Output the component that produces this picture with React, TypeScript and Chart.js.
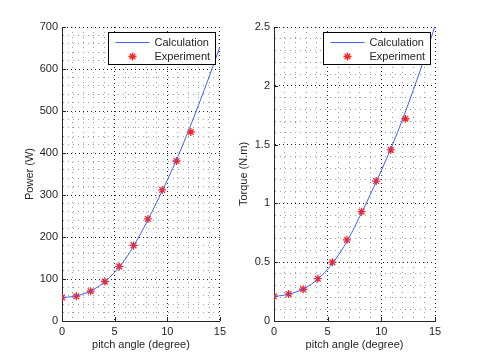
import React, { useEffect, useRef } from 'react';
import { Chart, registerables } from 'chart.js';
Chart.register(...registerables);

// ---- data ----
const calcAngle = [0, 1, 2, 3, 4, 5, 6, 7, 8, 9, 10, 11, 12, 13, 14, 15];
const calcPower = [56, 58, 64, 75, 92, 116, 147, 187, 233, 283, 335, 391, 452, 516, 583, 653];
const calcTorque = [0.21, 0.22, 0.245, 0.285, 0.35, 0.44, 0.56, 0.71, 0.89, 1.08, 1.28, 1.49, 1.72, 1.97, 2.23, 2.51];
const expAngle = [0, 1.36, 2.72, 4.08, 5.44, 6.8, 8.16, 9.52, 10.88, 12.24];
const expPower = [56, 59, 71, 94, 130, 180, 243, 312, 381, 450];
const expTorque = [0.21, 0.23, 0.27, 0.36, 0.5, 0.69, 0.93, 1.19, 1.455, 1.72];
const seriesLabels = ['Calculation', 'Experiment'];
const xTitle = 'pitch angle (degree)';
const powerTitle = 'Power (W)';
const torqueTitle = 'Torque (N.m)';

const FONT = "'Liberation Sans', Arial, Helvetica, sans-serif";
const TEXT = '#262626';

const near = (v: number, step: number) => Math.abs(v / step - Math.round(v / step)) < 1e-6;

const matlabPlugin = {
  id: 'matlab',
  afterDraw(chart: any, _args: any, opts: any) {
    const ctx = chart.ctx;
    const { left, right, top, bottom } = chart.chartArea;
    const xs = chart.scales.x;
    const ys = chart.scales.y;
    ctx.save();
    // inward ticks
    ctx.strokeStyle = '#262626';
    ctx.lineWidth = 1;
    ctx.beginPath();
    xs.ticks.forEach((t: any) => {
      if (!near(t.value, opts.xMajor)) return;
      const px = Math.round(xs.getPixelForValue(t.value)) + 0.5;
      ctx.moveTo(px, bottom);
      ctx.lineTo(px, bottom - 4);
    });
    ys.ticks.forEach((t: any) => {
      if (!near(t.value, opts.yMajor)) return;
      const py = Math.round(ys.getPixelForValue(t.value)) + 0.5;
      ctx.moveTo(left, py);
      ctx.lineTo(left + 4, py);
    });
    ctx.stroke();

    // axis titles
    ctx.fillStyle = TEXT;
    ctx.font = `11px ${FONT}`;
    ctx.textAlign = 'center';
    ctx.textBaseline = 'middle';
    ctx.fillText(opts.xTitle, (left + right) / 2, bottom + 24);
    ctx.save();
    ctx.translate(opts.yTitleX, (top + bottom) / 2);
    ctx.rotate(-Math.PI / 2);
    ctx.fillText(opts.yTitle, 0, 0);
    ctx.restore();

    // legend box
    const bx = Math.round(right - 112) + 0.5;
    const by = Math.round(top + 5) + 0.5;
    const bw = 107;
    const bh = 32;
    ctx.fillStyle = '#ffffff';
    ctx.fillRect(bx, by, bw, bh);
    ctx.strokeStyle = '#000';
    ctx.lineWidth = 1;
    ctx.strokeRect(bx, by, bw, bh);
    const ds = chart.data.datasets;
    // line sample
    ctx.strokeStyle = ds[0].borderColor;
    ctx.beginPath();
    ctx.moveTo(bx + 7, by + 10);
    ctx.lineTo(bx + 41, by + 10);
    ctx.stroke();
    // star sample
    ctx.strokeStyle = ds[1].borderColor;
    ctx.lineWidth = ds[1].pointBorderWidth;
    const cx = bx + 24;
    const cy = by + 24;
    const r = ds[1].pointRadius;
    ctx.beginPath();
    for (let k = 0; k < 4; k++) {
      const a = (k * Math.PI) / 4;
      ctx.moveTo(cx - r * Math.cos(a), cy - r * Math.sin(a));
      ctx.lineTo(cx + r * Math.cos(a), cy + r * Math.sin(a));
    }
    ctx.stroke();
    ctx.fillStyle = TEXT;
    ctx.textAlign = 'left';
    ctx.fillText(ds[0].label, bx + 46, by + 10);
    ctx.fillText(ds[1].label, bx + 46, by + 24);
    ctx.restore();
  },
};

function buildConfig(calcY: number[], expY: number[], yMax: number, yStep: number, yMajor: number,
  yAxisWidth: number, rightPad: number, yTitle: string, yTitleX: number): any {
  const isXMajor = (v: number) => near(v, 5);
  const isYMajor = (v: number) => near(v, yMajor);
  return {
    type: 'line',
    data: {
      datasets: [
        {
          label: seriesLabels[0],
          data: calcAngle.map((x, i) => ({ x, y: calcY[i] })),
          borderColor: '#4263f5',
          borderWidth: 1,
          pointRadius: 0,
          cubicInterpolationMode: 'monotone',
          fill: false,
        },
        {
          label: seriesLabels[1],
          data: expAngle.map((x, i) => ({ x, y: expY[i] })),
          showLine: false,
          pointStyle: 'star',
          pointRadius: 4,
          pointBorderWidth: 1.3,
          borderColor: '#ff2020',
          backgroundColor: '#ff2020',
          pointBorderColor: '#ff2020',
        },
      ],
    },
    options: {
      responsive: false,
      animation: false,
      devicePixelRatio: 1,
      layout: { padding: { left: 0, right: rightPad, top: 27, bottom: 0 } },
      plugins: {
        legend: { display: false },
        tooltip: { enabled: false },
        matlab: { xMajor: 5, yMajor, xTitle, yTitle, yTitleX },
      },
      scales: {
        x: {
          type: 'linear',
          min: 0,
          max: 15,
          afterFit: (s: any) => { s.height = 40; },
          ticks: {
            stepSize: 1,
            autoSkip: false,
            maxRotation: 0,
            padding: 4,
            color: TEXT,
            font: { family: FONT, size: 11 },
            callback: (v: number) => (isXMajor(v) ? String(Math.round(v)) : ''),
          },
          grid: {
            drawTicks: false,
            lineWidth: 1,
            color: (c: any) => (c.tick && isXMajor(c.tick.value) ? '#222' : '#a0a0a0'),
          },
          border: {
            color: '#262626',
            width: 1,
            dash: (c: any) => (c.tick ? (isXMajor(c.tick.value) ? [1, 3] : [1, 4]) : []),
          },
        },
        y: {
          type: 'linear',
          min: 0,
          max: yMax,
          afterFit: (s: any) => { s.width = yAxisWidth; },
          ticks: {
            stepSize: yStep,
            autoSkip: false,
            padding: 4,
            color: TEXT,
            font: { family: FONT, size: 11 },
            callback: (v: number) => (isYMajor(v) ? String(Math.round(v * 10) / 10) : ''),
          },
          grid: {
            drawTicks: false,
            lineWidth: 1,
            color: (c: any) => (c.tick && isYMajor(c.tick.value) ? '#222' : '#a0a0a0'),
          },
          border: {
            color: '#262626',
            width: 1,
            dash: (c: any) => (c.tick ? (isYMajor(c.tick.value) ? [1, 3] : [1, 4]) : []),
          },
        },
      },
    },
    plugins: [matlabPlugin],
  };
}

function ChartCanvas({ left, width, config }: { left: number; width: number; config: () => any }) {
  const ref = useRef<HTMLCanvasElement | null>(null);
  useEffect(() => {
    if (!ref.current) return;
    const chart = new Chart(ref.current, config());
    return () => chart.destroy();
  }, []);
  return (
    <canvas
      ref={ref}
      width={width}
      height={361}
      style={{ position: 'absolute', left, top: 0, width, height: 361 }}
    />
  );
}

export default function App() {
  return (
    <div style={{ position: 'fixed', left: 0, top: 0, width: 480, height: 361, background: '#fff', overflow: 'hidden' }}>
      <ChartCanvas
        left={0}
        width={230}
        config={() => buildConfig(calcPower, expPower, 700, 20, 100, 62, 7, powerTitle, 30)}
      />
      <ChartCanvas
        left={230}
        width={250}
        config={() => buildConfig(calcTorque, expTorque, 2.5, 0.1, 0.5, 44, 45, torqueTitle, 14)}
      />
    </div>
  );
}
